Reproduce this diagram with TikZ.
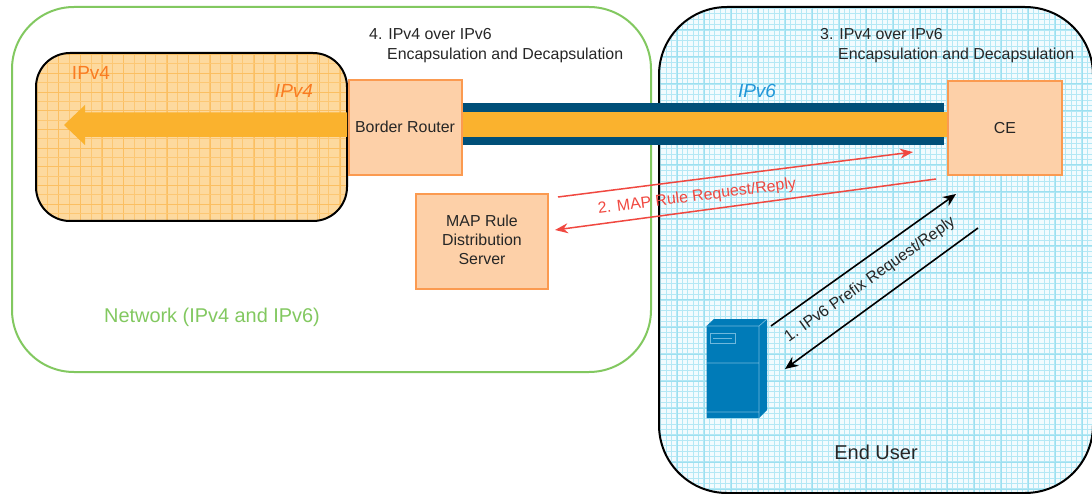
\documentclass[tikz,border=0pt]{standalone}
\usepackage{fontspec}
\setmainfont{Liberation Sans}
\usetikzlibrary{arrows.meta}
\definecolor{grn}{HTML}{82C860}
\definecolor{boxfill}{HTML}{FDD0A8}
\definecolor{boxline}{HTML}{FB9A50}
\definecolor{tube}{HTML}{004F78}
\definecolor{amber}{HTML}{FAB22E}
\definecolor{orfill}{HTML}{FDD99E}
\definecolor{orgrid}{HTML}{FBBF62}
\definecolor{blgrid}{HTML}{9CE0F0}
\definecolor{blpale}{HTML}{B4E8F5}
\definecolor{blbg}{HTML}{F2FBFE}
\definecolor{srv}{HTML}{007BB8}
\definecolor{srvl}{HTML}{6FB8DC}
\definecolor{redc}{HTML}{F04840}
\definecolor{iporange}{HTML}{F97B22}
\definecolor{ipblue}{HTML}{2397D8}
\tikzset{
  x=1pt,y=-1pt,
  boxn/.style={draw=boxline,fill=boxfill,line width=2pt,inner sep=0pt,align=center,font=\fontsize{15.9}{19.2}\selectfont,text=black!85},
  lbl/.style={inner sep=0pt,font=\fontsize{15.9}{19.8}\selectfont,text=black!85},
  redar/.style={draw=redc,line width=1.5pt,-{Stealth[length=13pt,width=10pt]}},
  blkar/.style={draw=black,line width=1.6pt,-{Stealth[length=13pt,width=11pt]}},
  zone/.style={draw=black,line width=2pt},
}
\begin{document}
\begin{tikzpicture}
\useasboundingbox (0,0) rectangle (1092,494);
% green network
\draw[grn,line width=2pt,rounded corners=62pt] (12,7) rectangle (651,372);
\node[inner sep=0pt,text=grn,font=\fontsize{19.9}{24}\selectfont] (netlabel) at (212,317) {Network (IPv4 and IPv6)};
% end user cloud
\begin{scope}
\path[clip,rounded corners=68pt] (659,7) rectangle (1093,493);
\fill[blbg] (650,0) rectangle (1092,494);
\foreach \v in {650,655.4,...,1095} \draw[blpale,line width=1.1pt] (\v,0) -- (\v,494);
\foreach \v in {3,8.4,...,494} \draw[blpale,line width=1.1pt] (650,\v) -- (1092,\v);
\foreach \v in {650,677,...,1095} \draw[blgrid,line width=1pt] (\v,0) -- (\v,494);
\foreach \v in {3,30,...,494} \draw[blgrid,line width=1pt] (650,\v) -- (1092,\v);
\end{scope}
\draw[zone,rounded corners=68pt] (659,7) rectangle (1093,493);
% IPv4 region
\begin{scope}
\path[clip,rounded corners=34pt] (36,53) rectangle (347,221);
\fill[orfill] (30,50) rectangle (350,225);
\foreach \v in {37.1,47.9,...,350} \draw[orgrid!70!orfill,line width=.9pt] (\v,50) -- (\v,225);
\foreach \v in {58.7,80.4,...,350} \draw[orgrid,line width=.9pt] (\v,50) -- (\v,225);
\foreach \v in {54.6,63.95,...,225} \draw[orgrid!70!orfill,line width=.9pt] (30,\v) -- (350,\v);
\foreach \v in {54.6,73.3,...,225} \draw[orgrid,line width=.9pt] (30,\v) -- (350,\v);
\end{scope}
\draw[zone,rounded corners=34pt] (36,53) rectangle (347,221);
\node[inner sep=0pt,text=iporange,font=\fontsize{19}{23}\selectfont] (v4a) at (91,73) {IPv4};
\node[inner sep=0pt,text=iporange,font=\fontsize{19}{23}\selectfont\itshape] (v4b) at (294,91) {IPv4};
\node[inner sep=0pt,text=ipblue,font=\fontsize{19}{23}\selectfont\itshape] (v6) at (757,91) {IPv6};
% tube
\fill[tube] (462,103) rectangle (944,145);
\fill[amber] (462,112.5) rectangle (950,137);
% boxes
\node[boxn,minimum width=113pt,minimum height=95pt] (br) at (405,127.5) {\raisebox{1.5pt}{Border Router}};
\node[boxn,minimum width=114pt,minimum height=94pt] (ce) at (1005,128) {CE};
\node[boxn,minimum width=132pt,minimum height=95pt] (map) at (482,241.5) {\raisebox{2pt}{\begin{tabular}{@{}c@{}}MAP Rule\\[-.3pt]Distribution\\[-.3pt]Server\end{tabular}}};
% IPv4 big arrow
\fill[amber] (347,112.5) -- (85,112.5) -- (85,105) -- (64,125) -- (85,145) -- (85,137) -- (347,137) -- cycle;
% server
\fill[srv] (706.5,326) -- (714,319) -- (767,319) -- (767,410) -- (759,418) -- (706.5,418) -- cycle;
\draw[srvl,line width=.7pt] (706.5,326) -- (759,326) -- (767,319) (759,326) -- (759,418) (706.5,363) -- (759,363) (706.5,412) -- (759,412);
\draw[srvl,line width=.7pt] (710,333) rectangle (735,343) (713,338) -- (732,338);
% labels
\node[lbl,align=left,anchor=north west] (t4) at (369,28.5) {4. IPv4 over IPv6\\\hspace*{18pt}Encapsulation and Decapsulation};
\node[lbl,align=left,anchor=north west] (t3) at (820,28.5) {3. IPv4 over IPv6\\\hspace*{18pt}Encapsulation and Decapsulation};
\node[inner sep=0pt,font=\fontsize{20}{24}\selectfont,text=black!85] (eu) at (876,452) {End User};
% red arrows
\coordinate (r1a) at (558,197); \coordinate (r1b) at (913,152);
\coordinate (r2a) at (936,179); \coordinate (r2b) at (555,230);
\draw[redar] (r1a) -- (r1b);
\draw[redar] (r2a) -- (r2b);
\node[inner sep=0pt,text=redc,rotate=7.3,font=\fontsize{15.9}{19}\selectfont] (r) at (697,197) {2. MAP Rule Request/Reply};
% black arrows
\coordinate (b1a) at (771,326); \coordinate (b1b) at (956,194);
\coordinate (b2a) at (978,228); \coordinate (b2b) at (785,369);
\draw[blkar] (b1a) -- (b1b);
\draw[blkar] (b2a) -- (b2b);
\node[lbl,rotate=35.3] (b) at (870,280) {1. IPv6 Prefix Request/Reply};
\end{tikzpicture}
\end{document}
